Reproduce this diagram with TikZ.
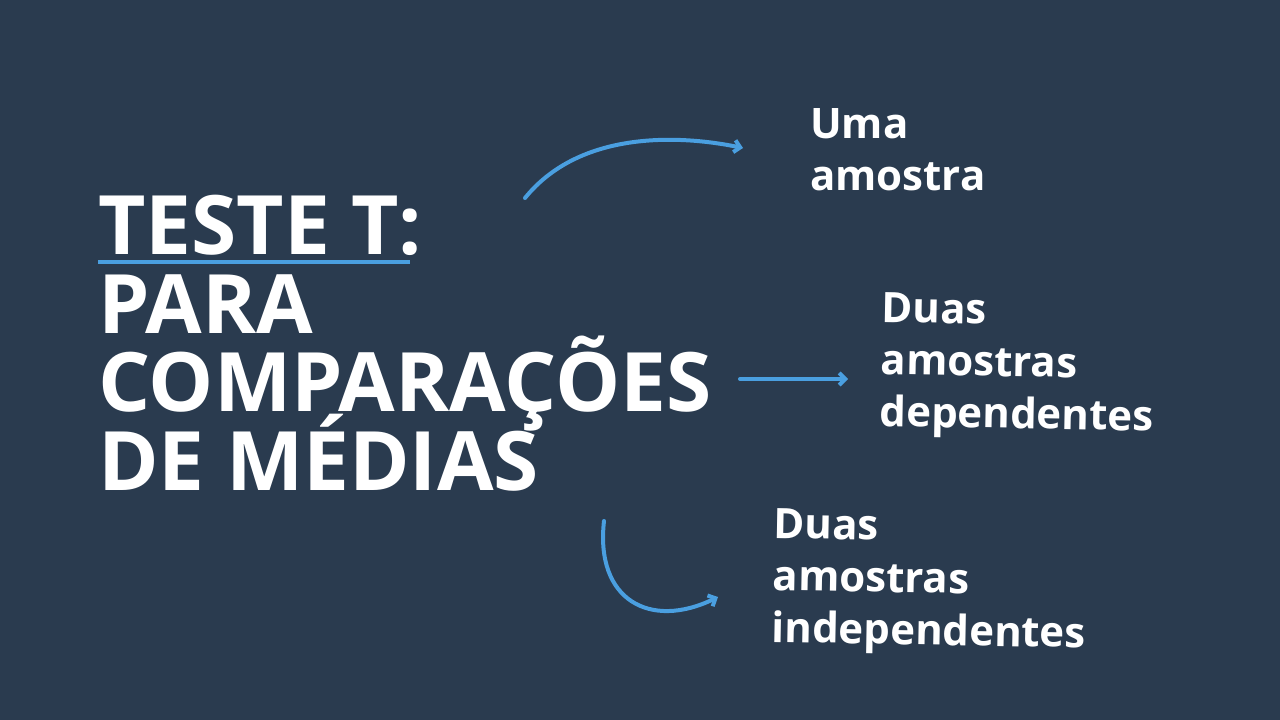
\documentclass[tikz,border=0pt]{standalone}
\usepackage{fontspec}
\setmainfont{Open Sans}[BoldFont={Open Sans Bold}]
\usetikzlibrary{arrows.meta}
\definecolor{bg}{HTML}{2A3B4F}
\definecolor{ac}{HTML}{4A9FE0}
\tikzset{conn/.style={draw=ac,line width=4pt,line cap=round,-{Straight Barb[length=6pt,width=12pt,line width=4pt]}},
 title/.style={text=white,font=\fontsize{82}{78}\selectfont\bfseries,anchor=base west,inner sep=0pt},
 item/.style={text=white,font=\fontsize{42}{52}\selectfont\bfseries,anchor=north west,align=left,inner sep=0pt}}
\begin{document}
\begin{tikzpicture}[x=1pt,y=-1pt]
\fill[bg] (0,0) rectangle (1280,720);
\useasboundingbox (0,0) rectangle (1280,720);
\node[title] (t1) at (98,254) {TESTE T:};
\draw[ac,line width=4pt] (98,262) -- (410,262);
\node[title] (t2) at (98,333) {PARA};
\node[title] (t3) at (98,411) {COMPARAÇÕES};
\node[title] (t4) at (98,490) {DE MÉDIAS};
\node[item] (a) at (810,108) {Uma\\amostra};
\node[item,rotate=-1] (b) at (882,292) {Duas\\amostras\\dependentes};
\node[item,rotate=-1] (c) at (774,508) {Duas\\amostras\\independentes};
\coordinate (s1) at (525,198); \coordinate (e1) at (743,148);
\coordinate (s2) at (740,379); \coordinate (e2) at (848,379);
\coordinate (s3) at (604,521); \coordinate (e3) at (718,597);
\draw[conn] (s1) .. controls (580,130) and (680,135) .. (e1);
\draw[conn] (s2) -- (e2);
\draw[conn] (s3) .. controls (595,600) and (650,630) .. (e3);
\end{tikzpicture}
\end{document}
